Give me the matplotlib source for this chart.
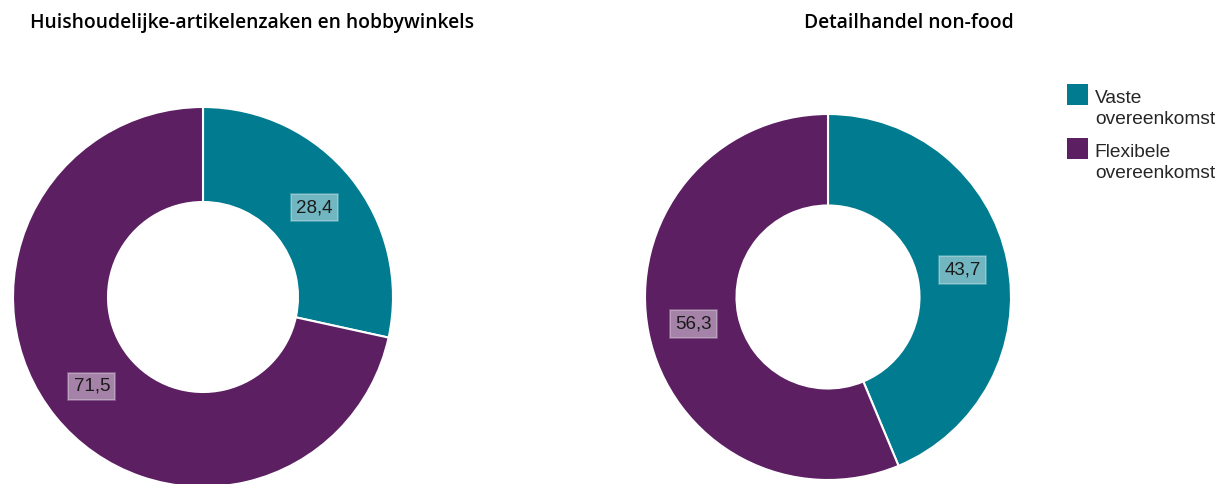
import matplotlib
matplotlib.use("Agg")
import matplotlib.pyplot as plt
from matplotlib.patches import Rectangle
from matplotlib.legend_handler import HandlerPatch
import numpy as np

titles = ["Huishoudelijke-artikelenzaken en hobbywinkels", "Detailhandel non-food"]
categories = ["Vaste\novereenkomst", "Flexibele\novereenkomst"]
values_left = [28.4, 71.5]
values_right = [43.7, 56.3]
colors = ["#007B8F", "#5C1F62"]

W, H = 1217, 484
fig = plt.figure(figsize=(W / 100, H / 100), dpi=100)

def px_axes(cx, cy, r):
    return fig.add_axes([(cx - r) / W, (H - cy - r) / H, 2 * r / W, 2 * r / H])

label_font = dict(family=["Liberation Sans", "DejaVu Sans"], size=13.5)

def donut(ax, vals):
    wedges, _ = ax.pie(vals, colors=colors, startangle=90, counterclock=False,
                       radius=1.0, wedgeprops=dict(width=0.5, edgecolor="white", linewidth=1.5))
    ax.set_xlim(-1, 1)
    ax.set_ylim(-1, 1)
    ax.set_aspect("equal")
    ax.axis("off")
    for w, v in zip(wedges, vals):
        ang = np.deg2rad((w.theta1 + w.theta2) / 2)
        x, y = 0.75 * np.cos(ang), 0.75 * np.sin(ang)
        ax.text(x, y, f"{v:.1f}".replace(".", ","), ha="center", va="center", color="#1a1a1a",
                bbox=dict(boxstyle="square,pad=0.28", facecolor=(1, 1, 1, 0.45),
                          edgecolor=(1, 1, 1, 0.3), linewidth=1.2),
                **label_font)
    return wedges

axL = px_axes(203, 297, 190)
wedges = donut(axL, values_left)
axR = px_axes(828, 297, 183)
donut(axR, values_right)

title_font = dict(family=["Open Sans", "DejaVu Sans"], size=13.9, weight="semibold")
fig.text(252 / W, 1 - 23 / H, titles[0], ha="center", va="center", **title_font)
fig.text(909 / W, 1 - 23 / H, titles[1], ha="center", va="center", **title_font)

class TopSquare(HandlerPatch):
    def create_artists(self, legend, orig_handle, xdescent, ydescent, width, height, fontsize, trans):
        shift = 1.2 * fontsize * 0.95 - 8
        p = Rectangle((-xdescent, -ydescent + shift), width, width,
                      facecolor=orig_handle.get_facecolor(), edgecolor="none", transform=trans)
        return [p]

fs = 13.8
leg = fig.legend(wedges, categories, loc="upper left", bbox_to_anchor=(1067 / W, 1 - 90 / H),
                 frameon=False, prop=dict(family=["Liberation Sans", "DejaVu Sans"], size=fs),
                 handlelength=1.1, handleheight=0.7, handletextpad=0.35, labelspacing=0.82,
                 borderpad=0, borderaxespad=0,
                 handler_map={matplotlib.patches.Wedge: TopSquare()})
for t in leg.get_texts():
    t.set_color("#262626")
    t.set_linespacing(1.32)

fig.savefig("out.png", dpi=100)
